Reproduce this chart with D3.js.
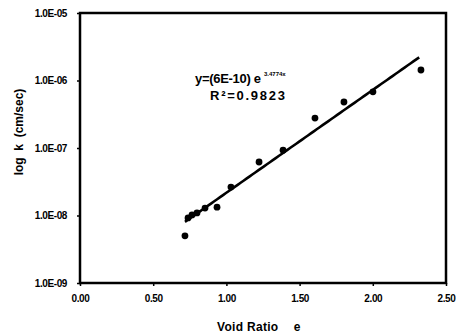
<!DOCTYPE html>
<html><head><meta charset="utf-8">
<script src="https://cdn.jsdelivr.net/npm/d3@7"></script>
<style>body{margin:0;background:#fff}svg{display:block}text{font-family:"Liberation Sans",Arial,sans-serif;fill:#000}</style>
</head><body><svg id="c" width="456" height="336"></svg>
<script>
const voidRatio = [0.717, 0.738, 0.765, 0.799, 0.854, 0.936, 1.031, 1.223, 1.387, 1.605, 1.803, 2.001, 2.329];
const permeability = [5.0e-9, 9.2e-9, 1.02e-8, 1.09e-8, 1.29e-8, 1.33e-8, 2.64e-8, 6.2e-8, 9.3e-8, 2.78e-7, 4.8e-7, 6.8e-7, 1.43e-6];
const xTicks = [0, 0.5, 1.0, 1.5, 2.0, 2.5];
const xTickLabels = ["0.00", "0.50", "1.00", "1.50", "2.00", "2.50"];
const yTicks = [1e-9, 1e-8, 1e-7, 1e-6, 1e-5];
const yTickLabels = ["1.0E-09", "1.0E-08", "1.0E-07", "1.0E-06", "1.0E-05"];
const eqMain = "y=(6E-10) e";
const eqExp = "3.4774x";
const r2Text = "R\u00B2=0.9823";

const svg = d3.select("#c");
const L = 80, R = 446, T = 13, B = 283;
const x = d3.scaleLinear().domain([0, 2.5]).range([L, R]);
const y = d3.scaleLog().domain([1e-9, 1e-5]).range([B, T]);

// trendline: least squares fit of ln(k) on e
const lx = voidRatio, ly = permeability.map(Math.log);
const mx = d3.mean(lx), my = d3.mean(ly);
const b = d3.sum(lx.map((v, i) => (v - mx) * (ly[i] - my))) / d3.sum(lx.map(v => (v - mx) ** 2));
const a = Math.exp(my - b * mx);
const xr = d3.range(d3.min(voidRatio), d3.max(voidRatio) + 0.001, 0.02);
svg.append("path")
  .attr("d", d3.line().x(d => x(d)).y(d => y(a * Math.exp(b * d)))(xr))
  .attr("fill", "none").attr("stroke", "#000").attr("stroke-width", 2.6);

svg.append("g").selectAll("circle").data(voidRatio).join("circle")
  .attr("cx", d => x(d)).attr("cy", (d, i) => y(permeability[i])).attr("r", 3.4).attr("fill", "#000");

// frame
svg.append("rect").attr("x", L).attr("y", T).attr("width", R - L).attr("height", B - T)
  .attr("fill", "none").attr("stroke", "#000").attr("stroke-width", 2.5);

// axes
const xAxis = d3.axisBottom(x).tickValues(xTicks).tickFormat((d, i) => xTickLabels[i]).tickSize(3).tickPadding(9);
const gx = svg.append("g").attr("transform", `translate(0,${B})`).call(xAxis);
const yAxis = d3.axisLeft(y).tickValues(yTicks).tickFormat((d, i) => yTickLabels[i]).tickSize(3).tickPadding(10);
const gy = svg.append("g").attr("transform", `translate(${L},0)`).call(yAxis);
[gx, gy].forEach(g => {
  g.select(".domain").remove();
  g.selectAll("line").attr("stroke", "#000").attr("stroke-width", 1.5);
  g.selectAll("text").attr("font-size", 10).attr("font-weight", "bold")
    .attr("font-family", "Liberation Sans, Arial, sans-serif").attr("letter-spacing", -0.4);
});

// titles
svg.append("text").attr("x", 217).attr("y", 331).attr("font-size", 12).attr("font-weight", "bold")
  .attr("letter-spacing", 0.3).text("Void Ratio");
svg.append("text").attr("x", 297).attr("y", 331).attr("text-anchor", "middle").attr("font-size", 12)
  .attr("font-weight", "bold").text("e");
svg.append("text").attr("transform", "translate(23,132) rotate(-90)").attr("text-anchor", "middle")
  .attr("font-size", 12).attr("font-weight", "bold").text("log\u00A0 k\u00A0 (cm/sec)");

// equation
svg.append("text").attr("x", 195).attr("y", 83).attr("font-size", 13).attr("font-weight", "bold")
  .attr("letter-spacing", -0.3).text(eqMain);
svg.append("text").attr("x", 264).attr("y", 76).attr("font-size", 6).attr("font-weight", "bold").text(eqExp);
svg.append("text").attr("x", 210).attr("y", 100).attr("font-size", 13).attr("font-weight", "bold")
  .attr("textLength", 75).attr("lengthAdjust", "spacing").text(r2Text);
</script></body></html>
